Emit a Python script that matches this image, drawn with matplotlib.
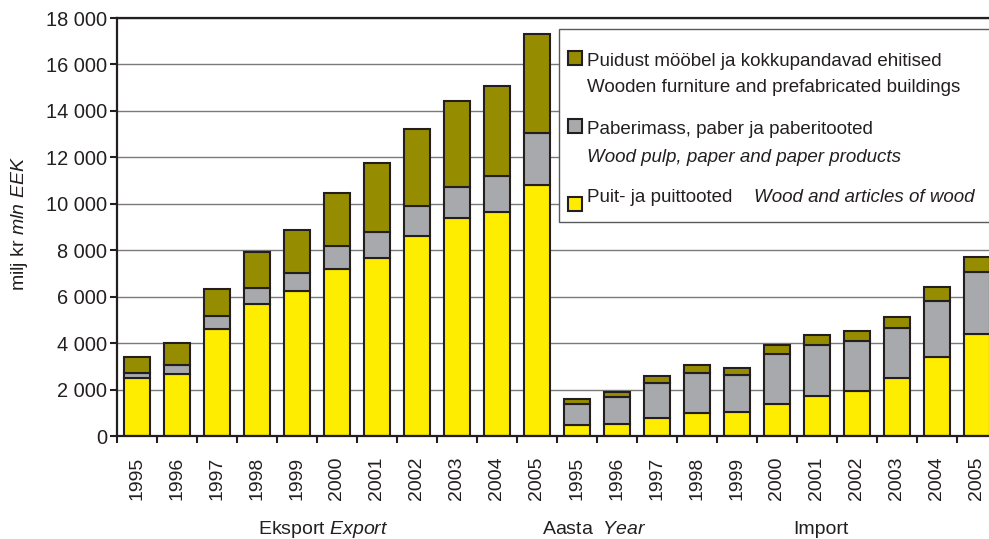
import numpy as np
import matplotlib
matplotlib.use('Agg')
import matplotlib.pyplot as plt
from matplotlib.patches import Rectangle
from matplotlib.ticker import FuncFormatter, FixedLocator

plt.rcParams['font.family'] = 'Liberation Sans'
plt.rcParams['mathtext.fontset'] = 'custom'
plt.rcParams['mathtext.rm'] = 'Liberation Sans'
plt.rcParams['mathtext.it'] = 'Liberation Sans:italic'

years = ['1995', '1996', '1997', '1998', '1999', '2000',
         '2001', '2002', '2003', '2004', '2005']

# export, milj kr
exp_wood = [2485, 2655, 4600, 5670, 6245, 7190, 7655, 8615, 9400, 9660, 10810]
exp_paper = [240, 405, 580, 720, 790, 1010, 1145, 1305, 1310, 1540, 2230]
exp_furn = [670, 930, 1140, 1535, 1835, 2255, 2945, 3315, 3720, 3875, 4260]

# import, milj kr
imp_wood = [460, 520, 760, 1005, 1050, 1365, 1720, 1940, 2485, 3415, 4390]
imp_paper = [920, 1175, 1540, 1725, 1580, 2155, 2200, 2165, 2180, 2415, 2660]
imp_furn = [215, 215, 300, 330, 285, 400, 430, 435, 445, 575, 675]

c_furn = '#968c00'
c_paper = '#a7a9ac'
c_wood = '#ffed00'
dark = '#231f20'

W, H = 989, 539


def fx(px):
    return px / W


def fy(py):
    return 1 - py / H


wood = np.array(exp_wood + imp_wood)
paper = np.array(exp_paper + imp_paper)
furn = np.array(exp_furn + imp_furn)
labels = years + years
x = np.arange(len(labels))

fig = plt.figure(figsize=(W / 100, H / 100), dpi=100)
ax = fig.add_axes([fx(117), fy(436), 880 / W, 418 / H])

bw = 0.63
ax.bar(x, wood, width=bw, color=c_wood, edgecolor=dark, linewidth=1.5)
ax.bar(x, paper, width=bw, bottom=wood, color=c_paper,
       edgecolor=dark, linewidth=1.5)
ax.bar(x, furn, width=bw, bottom=wood + paper, color=c_furn,
       edgecolor=dark, linewidth=1.5)

ax.set_xlim(-0.5, len(labels) - 0.5)
ax.set_ylim(0, 18000)
ax.set_yticks(np.arange(0, 18001, 2000))
ax.yaxis.set_major_formatter(FuncFormatter(
    lambda v, p: f'{int(v):,}'.replace(',', ' ')))
ax.set_axisbelow(True)
ax.yaxis.grid(True, color='#7a7a7a', linewidth=1)

# ticks between bars, labels under bars
ax.xaxis.set_major_locator(FixedLocator(np.arange(-0.5, len(labels), 1)))
ax.xaxis.set_major_formatter(FuncFormatter(lambda v, p: ''))
ax.xaxis.set_minor_locator(FixedLocator(x))
ax.set_xticklabels(labels, minor=True, rotation=90, fontsize=14,
                   color=dark, va='top')
ax.tick_params(axis='x', which='major', length=5, width=1.5, color=dark)
ax.tick_params(axis='x', which='minor', length=0, pad=15)
ax.tick_params(axis='y', length=5, width=1.5, color=dark, pad=2,
               labelsize=14.4, labelcolor=dark)

for s in ['left', 'bottom', 'top']:
    ax.spines[s].set_color(dark)
    ax.spines[s].set_linewidth(1.6)
ax.spines['right'].set_visible(False)

fig.text(fx(20), fy(224), r'milj kr $\mathit{mln\ EEK}$', rotation=90,
         ha='center', va='center', fontsize=14, color=dark)
fig.text(fx(323), fy(529), r'Eksport $\mathit{Export}$',
         ha='center', va='center', fontsize=14, color=dark)
fig.text(fx(594), fy(529), r'Aasta  $\mathit{Year}$',
         ha='center', va='center', fontsize=14, color=dark)
fig.text(fx(821), fy(529), 'Import',
         ha='center', va='center', fontsize=14, color=dark)

# legend box
fig.add_artist(Rectangle((fx(559), fy(222)), fx(440), 193 / H,
                         transform=fig.transFigure, facecolor='white',
                         edgecolor='#5a5a5a', linewidth=1, zorder=5))
for col, yc in [(c_furn, 58), (c_paper, 126), (c_wood, 204)]:
    fig.add_artist(Rectangle((fx(568), fy(yc + 7)), fx(14), 14 / H,
                             transform=fig.transFigure, facecolor=col,
                             edgecolor=dark, linewidth=1.5, zorder=6))
lt = dict(ha='left', va='center', fontsize=13.5, color=dark, zorder=7)
fig.text(fx(587), fy(61), 'Puidust mööbel ja kokkupandavad ehitised', **lt)
fig.text(fx(587), fy(88), 'Wooden furniture and prefabricated buildings', **lt)
fig.text(fx(587), fy(129), 'Paberimass, paber ja paberitooted', **lt)
fig.text(fx(587), fy(157), 'Wood pulp, paper and paper products',
         style='italic', **lt)
fig.text(fx(587), fy(198), 'Puit- ja puittooted', **lt)
fig.text(fx(754), fy(198), 'Wood and articles of wood', style='italic', **lt)

fig.savefig('out.png', dpi=100)
